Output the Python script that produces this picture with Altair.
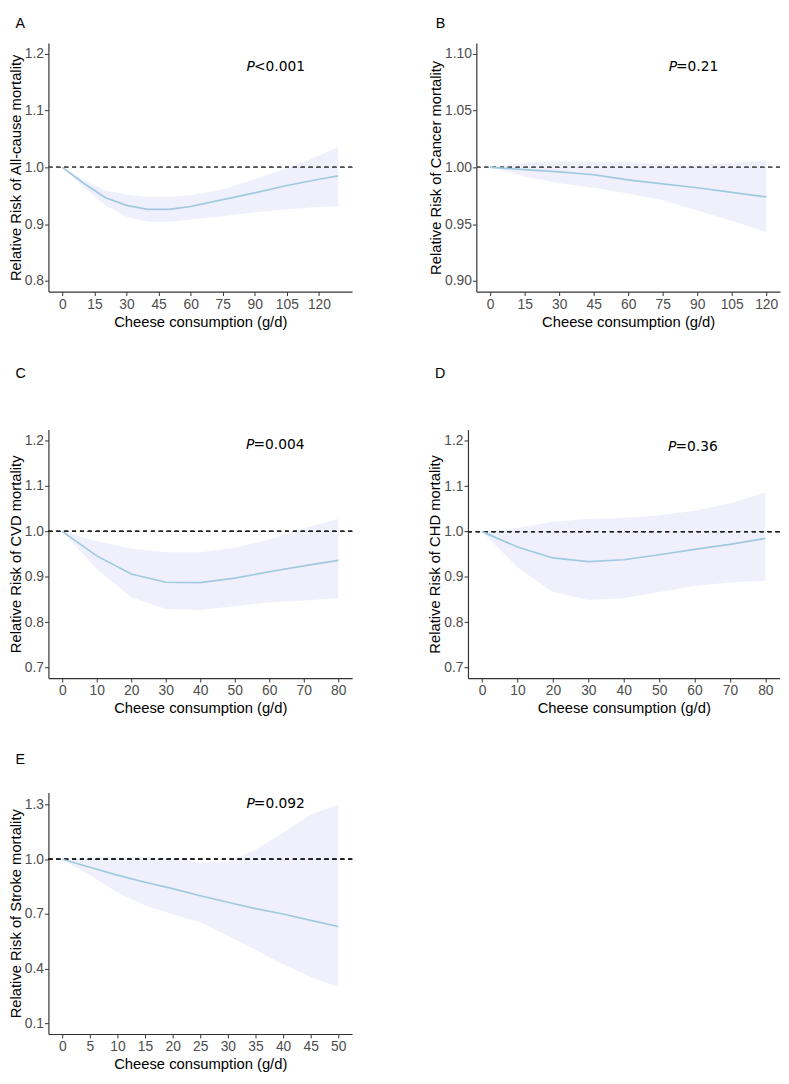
import altair as alt
import pandas as pd

# ---------------- data ----------------
# Panel A: All-cause mortality
a_x  = [0, 10, 20, 30, 40, 50, 60, 75, 90, 105, 120, 129]
a_rr = [1.0, 0.972, 0.947, 0.933, 0.926, 0.926, 0.931, 0.943, 0.955, 0.968, 0.979, 0.985]
a_lo = [1.0, 0.965, 0.933, 0.913, 0.904, 0.904, 0.908, 0.914, 0.921, 0.926, 0.930, 0.931]
a_hi = [1.0, 0.978, 0.959, 0.952, 0.948, 0.948, 0.951, 0.961, 0.979, 0.999, 1.021, 1.036]

# Panel B: Cancer mortality
b_x  = [0, 15, 30, 45, 60, 75, 90, 105, 120]
b_rr = [1.0, 0.998, 0.996, 0.9935, 0.989, 0.9855, 0.982, 0.978, 0.974]
b_lo = [1.0, 0.992, 0.986, 0.982, 0.977, 0.971, 0.962, 0.953, 0.943]
b_hi = [1.0, 1.004, 1.0055, 1.005, 1.0045, 1.003, 1.002, 1.004, 1.006]

# Panel C: CVD mortality
c_x  = [0, 10, 20, 30, 40, 50, 60, 70, 80]
c_rr = [1.0, 0.946, 0.906, 0.888, 0.887, 0.897, 0.911, 0.924, 0.936]
c_lo = [1.0, 0.917, 0.855, 0.829, 0.827, 0.835, 0.844, 0.848, 0.853]
c_hi = [1.0, 0.978, 0.962, 0.954, 0.954, 0.964, 0.982, 1.007, 1.027]

# Panel D: CHD mortality
d_x  = [0, 10, 20, 30, 40, 50, 60, 70, 80]
d_rr = [1.0, 0.966, 0.942, 0.934, 0.938, 0.949, 0.961, 0.972, 0.985]
d_lo = [1.0, 0.921, 0.867, 0.849, 0.853, 0.867, 0.880, 0.888, 0.892]
d_hi = [1.0, 1.008, 1.022, 1.028, 1.030, 1.036, 1.046, 1.062, 1.087]

# Panel E: Stroke mortality
e_x  = [0, 5, 10, 15, 20, 25, 30, 35, 40, 45, 50]
e_rr = [1.0, 0.956, 0.913, 0.874, 0.839, 0.800, 0.764, 0.729, 0.700, 0.665, 0.631]
e_lo = [1.0, 0.913, 0.817, 0.747, 0.698, 0.654, 0.581, 0.502, 0.424, 0.354, 0.300]
e_hi = [1.0, 1.010, 1.014, 1.010, 1.005, 0.982, 0.985, 1.052, 1.145, 1.245, 1.300]

panel_letters = ["A", "B", "C", "D", "E"]
y_titles = [
    "Relative Risk of All-cause mortality",
    "Relative Risk of Cancer mortality",
    "Relative Risk of CVD mortality",
    "Relative Risk of CHD mortality",
    "Relative Risk of Stroke mortality",
]
x_title = "Cheese consumption (g/d)"
p_texts = ["<0.001", "=0.21", "=0.004", "=0.36", "=0.092"]
p_x = [89.6, 80.8, 55.4, 54.6, 34.7]
p_y = [1.177, 1.088, 1.189, 1.187, 1.300]

x_ticks_a = [0, 15, 30, 45, 60, 75, 90, 105, 120]
x_ticks_c = [0, 10, 20, 30, 40, 50, 60, 70, 80]
x_ticks_e = [0, 5, 10, 15, 20, 25, 30, 35, 40, 45, 50]
y_ticks_a = [0.8, 0.9, 1.0, 1.1, 1.2]
y_ticks_b = [0.90, 0.95, 1.00, 1.05, 1.10]
y_ticks_c = [0.7, 0.8, 0.9, 1.0, 1.1, 1.2]
y_ticks_e = [0.1, 0.4, 0.7, 1.0, 1.3]

LINE = "#9ECAE1"
BAND = "#E6E6FA"


def panel(i, xs, rr, lo, hi, xdom, ydom, xticks, yticks, yfmt, width, height, offset, dash_color):
    df = pd.DataFrame({"x": xs, "rr": rr, "lo": lo, "hi": hi})
    ann = pd.DataFrame({"x": [p_x[i]], "rr": [p_y[i]], "t": [p_texts[i]]})
    xs_ = alt.Scale(domain=xdom, nice=False, zero=False)
    ys_ = alt.Scale(domain=ydom, nice=False, zero=False)
    xa = alt.Axis(values=xticks, tickCount=len(xticks) + 5, title=x_title, format="d",
                  labelOverlap=False, labelFlush=False, labelPadding=2, titlePadding=3)
    ya = alt.Axis(values=yticks, tickCount=len(yticks) + 5, title=y_titles[i], format=yfmt,
                  labelOverlap=False, labelFlush=False)

    band = alt.Chart(df).mark_area(color=BAND, opacity=0.6).encode(
        x=alt.X("x:Q", scale=xs_, axis=xa, title=x_title),
        y=alt.Y("lo:Q", scale=ys_, axis=ya, title=y_titles[i]),
        y2="hi:Q",
    )
    ref = alt.Chart(df).mark_rule(color=dash_color, strokeDash=[4, 4], strokeWidth=1).encode(
        y=alt.datum(1.0)
    )
    line = alt.Chart(df).mark_line(color=LINE, strokeWidth=1.7).encode(
        x=alt.X("x:Q", title=x_title),
        y=alt.Y("rr:Q", title=y_titles[i]),
    )
    tp = alt.Chart(ann).mark_text(
        text="P", font="DejaVu Sans", fontSize=14, fontStyle="italic",
        align="right", baseline="middle", color="black", dx=1,
    ).encode(x=alt.X("x:Q", title=x_title), y=alt.Y("rr:Q", title=y_titles[i]))
    tr = alt.Chart(ann).mark_text(
        font="DejaVu Sans", fontSize=14, align="left", baseline="middle", color="black",
    ).encode(x=alt.X("x:Q", title=x_title), y=alt.Y("rr:Q", title=y_titles[i]), text="t:N")

    return alt.layer(band, ref, line, tp, tr).properties(
        width=width,
        height=height,
        title=alt.TitleParams(
            text=panel_letters[i], anchor="start", frame="bounds", dx=7,
            offset=offset, fontSize=14.5, font="Liberation Sans", fontWeight="normal",
            color="black",
        ),
    )


pA = panel(0, a_x, a_rr, a_lo, a_hi, [-6.5, 135.5], [0.781, 1.219], x_ticks_a, y_ticks_a, ".1f", 308, 252, 12, "#555555")
pB = panel(1, b_x, b_rr, b_lo, b_hi, [-6, 126], [0.8905, 1.1095], x_ticks_a, y_ticks_b, ".2f", 308, 252, 12, "#555555")
pC = panel(2, c_x, c_rr, c_lo, c_hi, [-4, 84], [0.677, 1.224], x_ticks_c, y_ticks_c, ".1f", 308, 252, 49, "#222222")
pD = panel(3, d_x, d_rr, d_lo, d_hi, [-4, 84], [0.677, 1.225], x_ticks_c, y_ticks_c, ".1f", 316, 252, 49, "#222222")
pE = panel(4, e_x, e_rr, e_lo, e_hi, [-2.5, 52.5], [0.042, 1.366], x_ticks_e, y_ticks_e, ".1f", 308, 245, 25, "#222222")

row1 = alt.hconcat(pA, pB, spacing=76)
row2 = alt.hconcat(pC, pD, spacing=75.5)

chart = alt.vconcat(row1, row2, pE, spacing=37).properties(padding=0).configure_view(stroke=None).configure_axis(
    grid=False,
    domainColor="#333333",
    domainWidth=1.2,
    tickColor="#333333",
    tickSize=4,
    labelColor="#4D4D4D",
    labelFont="Liberation Sans",
    labelFontSize=14,
    labelPadding=1,
    labelOverlap=False,
    labelFlush=False,
    titleFont="Liberation Sans",
    titleFontSize=15,
    titleFontWeight="normal",
    titleColor="#000000",
    titlePadding=1,
)

chart.save("out.html", embed_options={"renderer": "svg", "actions": False})
